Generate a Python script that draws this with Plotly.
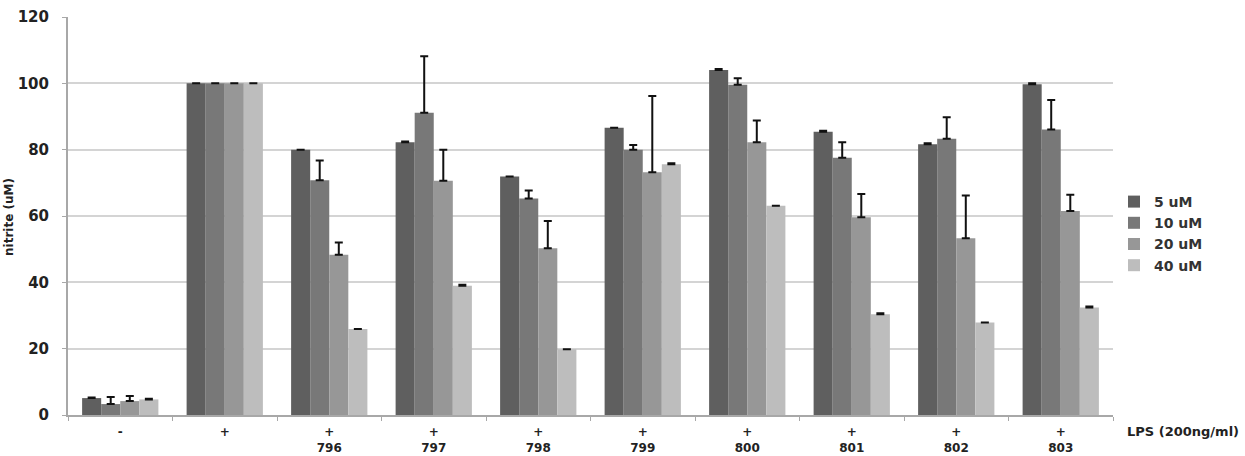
import plotly.graph_objects as go

categories = ["-", "+", "796", "797", "798", "799", "800", "801", "802", "803"]
tick_labels = ["-", "+", "+<br>796", "+<br>797", "+<br>798", "+<br>799",
               "+<br>800", "+<br>801", "+<br>802", "+<br>803"]
series_names = ["5 uM", "10 uM", "20 uM", "40 uM"]

vals_5 = [5.1, 100, 80, 82.2, 71.9, 86.6, 104, 85.4, 81.6, 99.7]
vals_10 = [3.3, 100, 70.8, 91.1, 65.3, 80, 99.6, 77.6, 83.3, 86.1]
vals_20 = [4.2, 100, 48.3, 70.6, 50.3, 73.2, 82.2, 59.6, 53.3, 61.5]
vals_40 = [4.7, 100, 25.9, 39, 19.8, 75.6, 63.1, 30.4, 27.9, 32.4]

err_5 = [0.2, 0, 0, 0.3, 0, 0, 0.3, 0.3, 0.3, 0.3]
err_10 = [2.1, 0, 5.9, 17.1, 2.4, 1.4, 1.9, 4.6, 6.5, 8.9]
err_20 = [1.5, 0, 3.7, 9.4, 8.2, 23.0, 6.6, 7.0, 12.9, 4.9]
err_40 = [0.2, 0, 0, 0.3, 0, 0.3, 0, 0.3, 0, 0.3]

colors = ["#5f5f5f", "#787878", "#979797", "#bdbdbd"]
all_vals = [vals_5, vals_10, vals_20, vals_40]
all_errs = [err_5, err_10, err_20, err_40]

FONT = "DejaVu Sans"

fig = go.Figure()
for name, v, e, c in zip(series_names, all_vals, all_errs, colors):
    fig.add_trace(go.Bar(
        x=categories, y=v, name=name,
        marker=dict(color=c, line=dict(width=0)),
        error_y=dict(type="data", array=e, arrayminus=[0] * len(e),
                     symmetric=False, color="#111111", thickness=2, width=4),
    ))

W, H = 1245, 456
L, R, T, B = 68, 132, 17, 41
PW, PH = W - L - R, H - T - B

fig.update_layout(
    width=W, height=H,
    margin=dict(l=L, r=R, t=T, b=B, pad=0, autoexpand=False),
    paper_bgcolor="white", plot_bgcolor="white",
    barmode="group", bargap=0.27, bargroupgap=0,
    font=dict(family=FONT, color="#222222"),
    legend=dict(
        x=1.0 + (1114 - 1113) / PW, xanchor="left",
        y=(H - B - 186) / PH, yanchor="top",
        font=dict(family=FONT, size=14, color="#333333", weight="bold"),
        bgcolor="rgba(0,0,0,0)", borderwidth=0,
        itemwidth=30, tracegroupgap=0,
    ),
    xaxis=dict(
        tickmode="array", tickvals=categories, ticktext=tick_labels,
        tickfont=dict(family=FONT, size=12, color="#222222", weight="bold"),
        showline=True, linecolor="#a8a8a8", linewidth=2,
        ticks="outside", tickson="boundaries", ticklen=4, tickcolor="#a8a8a8",
        ticklabelstandoff=5, automargin=False,
        showgrid=False,
    ),
    yaxis=dict(
        range=[0, 120], dtick=20,
        tickfont=dict(family=FONT, size=15, color="#222222", weight="bold"),
        showline=True, linecolor="#a8a8a8", linewidth=2,
        ticks="outside", ticklen=4, tickcolor="#a8a8a8",
        ticklabelstandoff=10, automargin=False,
        showgrid=True, gridcolor="#d4d4d4", gridwidth=1.5,
        zeroline=False,
    ),
)

# LPS label at the right end of the x axis
fig.add_annotation(
    xref="paper", yref="paper",
    x=(1125 - L) / PW, y=-(432 - (H - B)) / PH,
    text="LPS (200ng/ml)", showarrow=False, xanchor="left", yanchor="middle",
    font=dict(family=FONT, size=13, color="#222222", weight="bold"),
)
# y-axis title at the far left edge
fig.add_annotation(
    xref="paper", yref="paper",
    x=(9 - L) / PW, y=(H - B - 217) / PH,
    text="nitrite (uM)", showarrow=False, textangle=-90,
    xanchor="center", yanchor="middle",
    font=dict(family=FONT, size=12, color="#222222", weight="bold"),
)

fig.write_html("out.html")
